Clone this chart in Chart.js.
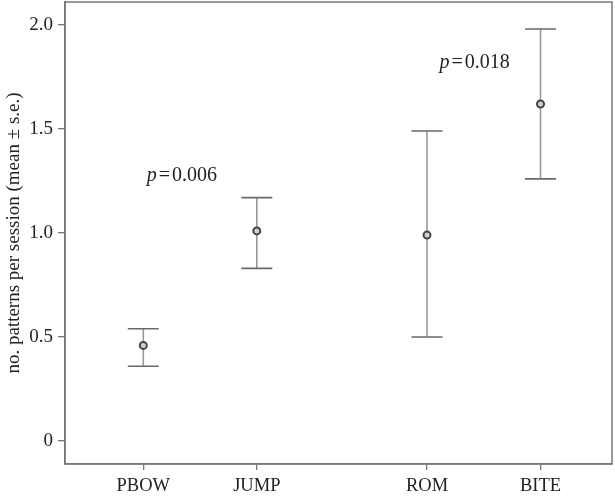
<!DOCTYPE html>
<html>
<head>
<meta charset="utf-8">
<script src="https://cdn.jsdelivr.net/npm/chart.js@4.4.1/dist/chart.umd.min.js"></script>
<style>
  html, body { margin: 0; padding: 0; background: #fff; }
  #wrap { width: 615px; height: 497px; }
</style>
</head>
<body>
<div id="wrap"><canvas id="patterns"></canvas></div>
<script>
// behaviour categories and their positions on the x axis (gap before ROM)
const categories = ['PBOW', 'JUMP', 'ROM', 'BITE'];
const positions = [1, 2, 3.5, 4.5];

// mean and mean +/- s.e.
const means = [0.46, 1.01, 0.99, 1.62];
const lower = [0.36, 0.83, 0.50, 1.26];
const upper = [0.54, 1.17, 1.49, 1.98];

const yTicks = [0, 0.5, 1.0, 1.5, 2.0];
const pValues = ['0.006', '0.018'];

const serif = '"Liberation Serif", "DejaVu Serif", serif';
const axisGray = '#777';

document.addEventListener('DOMContentLoaded', function() {
    const ctx = document.getElementById('patterns').getContext('2d');

    const points = positions.map(function(x, i) {
        return { x: x, y: means[i] };
    });

    // whiskers drawn through the scales, under the points
    const errorBars = {
        id: 'errorBars',
        beforeDatasetsDraw: function(chart) {
            const c = chart.ctx;
            const xs = chart.scales.x, ys = chart.scales.y;
            c.save();
            positions.forEach(function(pos, i) {
                const px = xs.getPixelForValue(pos);
                const yLo = ys.getPixelForValue(lower[i]);
                const yHi = ys.getPixelForValue(upper[i]);
                c.strokeStyle = '#9a9a9a';
                c.lineWidth = 1.6;
                c.beginPath();
                c.moveTo(px, yLo);
                c.lineTo(px, yHi);
                c.stroke();
                c.strokeStyle = '#6a6a6a';
                c.beginPath();
                c.moveTo(px - 15.5, yHi);
                c.lineTo(px + 15.5, yHi);
                c.moveTo(px - 15.5, yLo);
                c.lineTo(px + 15.5, yLo);
                c.stroke();
            });
            c.restore();
        }
    };

    // box around the plot + p-value notes
    const frameAndNotes = {
        id: 'frameAndNotes',
        afterDraw: function(chart) {
            const c = chart.ctx;
            const a = chart.chartArea;
            const xs = chart.scales.x, ys = chart.scales.y;
            c.save();
            c.strokeStyle = axisGray;
            c.lineWidth = 1.5;
            c.strokeRect(a.left, a.top, a.right - a.left, a.bottom - a.top);

            const notes = [
                { x: 1.03, y: 1.277, text: pValues[0] },
                { x: 3.61, y: 1.817, text: pValues[1] }
            ];
            c.fillStyle = '#222';
            c.textBaseline = 'middle';
            c.textAlign = 'left';
            notes.forEach(function(n) {
                let px = xs.getPixelForValue(n.x);
                const py = ys.getPixelForValue(n.y);
                c.font = 'italic 20px ' + serif;
                c.fillText('p', px, py);
                px += c.measureText('p').width + 2;
                c.font = '20px ' + serif;
                c.fillText('=', px, py);
                px += c.measureText('=').width + 2;
                c.fillText(n.text, px, py);
            });
            c.restore();
        }
    };

    new Chart(ctx, {
        type: 'scatter',
        data: {
            datasets: [{
                data: points,
                pointRadius: 3.5,
                pointBorderWidth: 2,
                pointBackgroundColor: '#cfcfcf',
                pointBorderColor: '#444',
                pointHoverRadius: 3.5
            }]
        },
        plugins: [errorBars, frameAndNotes],
        options: {
            responsive: true,
            maintainAspectRatio: false,
            animation: false,
            layout: { autoPadding: false, padding: { left: 0, right: 3, top: 2, bottom: 0 } },
            plugins: {
                legend: { display: false },
                tooltip: { enabled: false }
            },
            scales: {
                x: {
                    type: 'linear',
                    min: 0.31,
                    max: 5.13,
                    afterBuildTicks: function(scale) {
                        scale.ticks = positions.map(function(v) { return { value: v }; });
                    },
                    afterFit: function(scale) {
                        scale.height = 33;
                        scale.paddingLeft = 0;
                        scale.paddingRight = 0;
                    },
                    grid: {
                        display: true,
                        drawOnChartArea: false,
                        drawTicks: true,
                        tickLength: 6,
                        color: axisGray,
                        lineWidth: 1.3
                    },
                    border: { display: true, color: axisGray, width: 1.5 },
                    ticks: {
                        autoSkip: false,
                        maxRotation: 0,
                        padding: 5,
                        color: '#222',
                        font: { family: serif, size: 18.5 },
                        callback: function(value) {
                            const i = positions.indexOf(value);
                            return i >= 0 ? categories[i] : '';
                        }
                    }
                },
                y: {
                    min: -0.11,
                    max: 2.11,
                    afterBuildTicks: function(scale) {
                        scale.ticks = yTicks.map(function(v) { return { value: v }; });
                    },
                    afterFit: function(scale) {
                        scale.width = 65;
                        scale.paddingTop = 0;
                        scale.paddingBottom = 0;
                    },
                    grid: {
                        display: true,
                        drawOnChartArea: false,
                        drawTicks: true,
                        tickLength: 7,
                        color: axisGray,
                        lineWidth: 1.3
                    },
                    border: { display: true, color: axisGray, width: 1.5 },
                    ticks: {
                        padding: 5,
                        color: '#222',
                        font: { family: serif, size: 19 },
                        callback: function(value) {
                            return value === 0 ? '0' : value.toFixed(1);
                        }
                    },
                    title: {
                        display: true,
                        text: 'no. patterns per session (mean \u00b1 s.e.)',
                        color: '#222',
                        font: { family: serif, size: 19 },
                        padding: { top: 3, bottom: 0 }
                    }
                }
            }
        }
    });
});
</script>
</body>
</html>
